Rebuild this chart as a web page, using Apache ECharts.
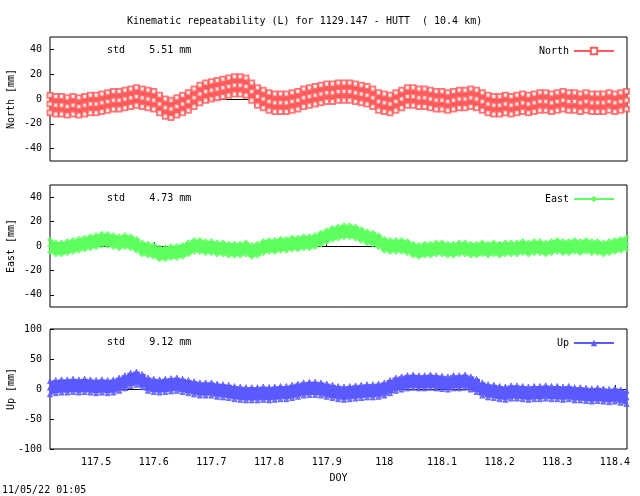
<!DOCTYPE html>
<html>
<head>
<meta charset="utf-8">
<script src="https://cdn.jsdelivr.net/npm/echarts@6/dist/echarts.min.js"></script>
<style>html,body{margin:0;padding:0;background:#fff}#c{width:640px;height:496px}</style>
</head>
<body>
<div id="c"></div>
<script>
// day of year, one sample every 0.01 day from 117.42
var startDay = 117.42, step = 0.01;
var northMm = [-4,-5,-5,-6,-5,-6, -5,-4,-4,-3,-2,-1,-1, 0,1,2,1,0, -1,-4,-7,-8,-6, -4,-2,1,4,6,
  7,8,9,10,11,11,10, 6,2,0,-2,-3, -3,-3,-2,-1,1, 2,3,4,5,5, 6,6,6,5,4,3, 1,-2,-3,-4,-2,
  0,2,2,1,1, 0,-1,-1,-2,-1, 0,0,1,0,-2, -4,-5,-5,-4,-5, -4,-3,-4,-3,-2, -2,-3,-2,-1,-2,
  -2,-3,-2,-3,-3, -3,-2,-3,-2,-1];
var eastMm = [0,-2,-2,-1,0,1, 2,3,4,5,5,4,3, 4,3,1,-2,-3, -4,-6,-6,-5,-5, -4,-2,0,0,-1,
  -1,-2,-2,-3,-3,-3,-2, -4,-3,-1,0,0, 1,1,2,2,3, 3,4,6,8,10, 11,12,12,11,9,7, 6,4,1,0,0,
  0,-1,-3,-4,-3, -3,-2,-2,-3,-3, -2,-2,-3,-3,-2, -3,-2,-3,-2,-2, -2,-1,-2,-1,-1,
  -2,-1,0,-1,-1, 0,-1,0,-1,-1, -2,-1,0,1,2];
var upMm = [2,4,5,5,6,5, 6,5,4,5,4,5,8, 12,16,18,14,8, 6,5,6,7,8, 6,4,2,0,0,
  0,-2,-3,-4,-6,-7,-8, -8,-8,-7,-8,-7, -6,-6,-4,-2,0, 1,1,0,-2,-4, -6,-7,-6,-5,-4,-3,
  -3,-2,0,4,8, 10,12,13,12,12, 13,12,11,10,12, 12,13,10,6,0, -3,-4,-6,-7,-5,
  -5,-6,-7,-6,-6, -5,-6,-6,-7,-6, -8,-8,-9,-10,-9, -10,-11,-10,-12,-14];
// half width of the scatter band, mm
var northSpread = 7, eastSpread = 5, upSpread = 11;
var stdText = ['5.51', '4.73', '9.12'];
var xTicks = [117.5, 117.6, 117.7, 117.8, 117.9, 118.0, 118.1, 118.2, 118.3, 118.4];

var font = 'DejaVu Sans Mono';
var panels = [
  {name: 'North', vals: northMm, s: northSpread, color: '#ff5a5a', sym: 'emptyRect', top: 37, h: 124, lim: 50, ticks: [-40,-20,0,20,40], yname: 'North [mm]'},
  {name: 'East', vals: eastMm, s: eastSpread, color: '#5eff5e', sym: 'diamond', top: 185, h: 122, lim: 50, ticks: [-40,-20,0,20,40], yname: 'East [mm]'},
  {name: 'Up', vals: upMm, s: upSpread, color: '#5a5aff', sym: 'triangle', top: 329, h: 120, lim: 100, ticks: [-100,-50,0,50,100], yname: 'Up [mm]'}
];

var grid = [], xAxis = [], yAxis = [], series = [], legend = [], graphic = [];
panels.forEach(function (p, k) {
  grid.push({left: 50, right: 13, top: p.top, height: p.h, show: true, borderColor: '#000', borderWidth: 1,
    outerBoundsMode: 'none', containLabel: false});
  xAxis.push({
    gridIndex: k, type: 'value', min: startDay, max: 118.421,
    axisLine: {show: false}, splitLine: {show: false},
    axisTick: {inside: true, length: 4, customValues: xTicks, lineStyle: {color: '#000'}},
    axisLabel: {show: k === 2, customValues: xTicks, fontFamily: font, fontSize: 10, color: '#000',
      formatter: function (v) { return String(+(+v).toFixed(1)); }},
    name: k === 2 ? 'DOY' : '', nameLocation: 'middle', nameGap: 24,
    nameTextStyle: {fontFamily: font, fontSize: 10, color: '#000'}
  });
  yAxis.push({
    gridIndex: k, type: 'value', min: -p.lim, max: p.lim,
    axisLine: {show: false}, splitLine: {show: false},
    axisTick: {inside: true, length: 4, customValues: p.ticks, lineStyle: {color: '#000'}},
    axisLabel: {customValues: p.ticks, fontFamily: font, fontSize: 10, color: '#000', margin: 8}
  });
  var lo = [], up = [], mid = [], band = [];
  p.vals.forEach(function (v, i) {
    var x = +(startDay + i * step).toFixed(2);
    lo.push([x, v - p.s]);
    up.push([x, v + p.s]);
    mid.push([x, v]);
    band.push([x, v - p.s, v + p.s]);
  });
  // filled band: one block per sample, from low edge to high edge
  series.push({type: 'custom', xAxisIndex: k, yAxisIndex: k, data: band, silent: true, z: 3,
    renderItem: function (params, api) {
      var a = api.coord([api.value(0) - step * 0.6, api.value(2)]);
      var b = api.coord([api.value(0) + step * 0.6, api.value(1)]);
      var r = echarts.graphic.clipRectByRect({x: a[0], y: a[1], width: b[0] - a[0], height: b[1] - a[1]},
        {x: params.coordSys.x, y: params.coordSys.y, width: params.coordSys.width, height: params.coordSys.height});
      return r && {type: 'rect', shape: r, style: {fill: p.color}};
    },
    markLine: {silent: true, symbol: 'none', label: {show: false}, z: 2, lineStyle: {color: '#000', width: 1, type: 'solid'}, data: [{yAxis: 0}]}});
  series.push({type: 'line', name: p.name, xAxisIndex: k, yAxisIndex: k, data: [],
    symbol: p.sym, symbolSize: 5, lineStyle: {color: p.color, width: 1}, itemStyle: {color: p.color}});
  [up, lo, mid].forEach(function (d) {
    series.push({type: 'scatter', xAxisIndex: k, yAxisIndex: k, data: d, symbol: p.sym, symbolSize: 5,
      itemStyle: {color: p.color, borderColor: p.color}, z: 4, silent: true});
  });
  legend.push({data: [p.name], right: 20, top: p.top + 4, itemWidth: 40, itemHeight: 8,
    textStyle: {fontFamily: font, fontSize: 10, color: '#000'}, align: 'right', selectedMode: false});
  graphic.push({type: 'text', left: 107, top: p.top + 8,
    style: {text: 'std    ' + stdText[k] + ' mm', font: '10px "DejaVu Sans Mono"', fill: '#000'}});
  graphic.push({type: 'text', x: 11, y: p.top + p.h / 2, rotation: Math.PI / 2,
    style: {text: p.yname, font: '10px "DejaVu Sans Mono"', fill: '#000', align: 'center', verticalAlign: 'middle'}});
});
graphic.push({type: 'text', left: 127, top: 16, style: {text: 'Kinematic repeatability (L) for 1129.147 - HUTT  ( 10.4 km)', font: '10px "DejaVu Sans Mono"', fill: '#000'}});
graphic.push({type: 'text', left: 2, top: 485, style: {text: '11/05/22 01:05', font: '10px "DejaVu Sans Mono"', fill: '#000'}});

var chart = echarts.init(document.getElementById('c'), null, {renderer: 'canvas'});
chart.setOption({animation: false, grid: grid, xAxis: xAxis, yAxis: yAxis, series: series, legend: legend, graphic: graphic});
</script>
</body>
</html>
